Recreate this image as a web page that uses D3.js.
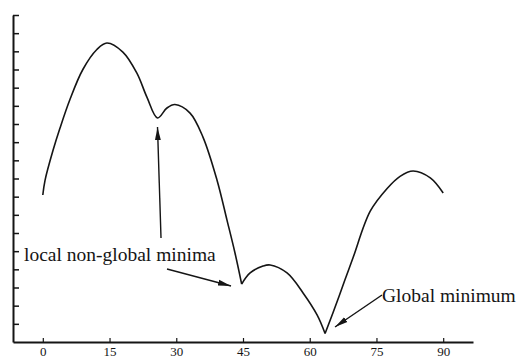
<!DOCTYPE html>
<html>
<head>
<meta charset="utf-8">
<script src="https://cdn.jsdelivr.net/npm/d3@7"></script>
<style>
  html, body { margin: 0; padding: 0; background: #fff; }
  svg { display: block; }
  text { font-family: "Liberation Serif", "Times New Roman", serif; fill: #151515; }
</style>
</head>
<body>
<svg id="chart" width="520" height="358"></svg>
<script>
// curve samples (x in degrees, y in arbitrary units)
const curveX = [0, 0.5, 2.3, 3.83, 6.1, 9.0, 12.15, 14.4, 18.0, 21.15, 23.4, 25.8, 27.9, 29.7, 33.1, 36.0, 39.15, 41.4, 43.2, 44.7,
  46.6, 49.5, 51.1, 54.9, 58.5, 61.65, 63.45, 65.25, 67.9, 69.75, 73.6, 77.4, 80.3, 83.25, 87.1, 90];
const curveY = [8.09, 8.9, 10.55, 11.75, 13.35, 15.0, 16.1, 16.46, 15.96, 14.80, 13.48, 12.33, 12.88, 13.07, 12.60, 11.28, 8.92, 6.71, 4.90, 3.19,
  3.80, 4.18, 4.24, 3.80, 2.70, 1.49, 0.47, 1.62, 3.41, 4.65, 7.2, 8.45, 9.12, 9.41, 9.03, 8.20];
// sharp minima where the curve has a corner
const cuspX = [44.7, 63.45];

const xTicks = [0, 15, 30, 45, 60, 75, 90];
const yTicks = d3.range(1, 19);

const labelLocal = 'local non-global minima';
const labelGlobal = 'Global minimum';

const svg = d3.select('#chart');

const xScale = d3.scaleLinear().domain([-6.7, 96.7]).range([13, 473]);
const yScale = d3.scaleLinear().domain([0, 18]).range([342, 15]);

// arrowhead
svg.append('defs').append('marker')
  .attr('id', 'head')
  .attr('markerUnits', 'userSpaceOnUse')
  .attr('markerWidth', 14)
  .attr('markerHeight', 8)
  .attr('refX', 13)
  .attr('refY', 3.5)
  .attr('orient', 'auto')
  .append('path')
  .attr('d', 'M0,0.6 L13,3.5 L0,6.4 Z')
  .attr('fill', '#151515');

// x axis, ticks pointing up, labels below
const xAxis = svg.append('g')
  .attr('transform', `translate(0,${yScale(0)})`)
  .call(d3.axisBottom(xScale)
    .tickValues(xTicks)
    .tickSizeInner(-4)
    .tickSizeOuter(0)
    .tickPadding(5)
    .tickFormat(d3.format('d')));

xAxis.select('.domain').attr('stroke', '#151515').attr('stroke-width', 2);
xAxis.selectAll('.tick line').attr('stroke', '#151515').attr('stroke-width', 1.2);
xAxis.selectAll('.tick text')
  .style('font-family', '"Liberation Serif", serif')
  .style('font-size', '13px')
  .attr('fill', '#151515');

// y axis, unlabelled ticks pointing right
const yAxis = svg.append('g')
  .attr('transform', `translate(${xScale.range()[0]},0)`)
  .call(d3.axisRight(yScale)
    .tickValues(yTicks)
    .tickSizeInner(6)
    .tickSizeOuter(0)
    .tickFormat(''));

yAxis.select('.domain').attr('stroke', '#151515').attr('stroke-width', 2);
yAxis.selectAll('.tick line').attr('stroke', '#151515').attr('stroke-width', 1.5);

// split the samples into arches at the sharp minima
const points = curveX.map((x, i) => ({ x, y: curveY[i] }));
const arches = [];
let current = [];
points.forEach(p => {
  current.push(p);
  if (cuspX.includes(p.x)) {
    arches.push(current);
    current = [p];
  }
});
arches.push(current);

const line = d3.line()
  .x(d => xScale(d.x))
  .y(d => yScale(d.y))
  .curve(d3.curveCatmullRom.alpha(0.5));

svg.selectAll('path.arch')
  .data(arches)
  .enter()
  .append('path')
  .attr('class', 'arch')
  .attr('d', line)
  .attr('fill', 'none')
  .attr('stroke', '#151515')
  .attr('stroke-width', 1.6)
  .attr('stroke-linejoin', 'round');

// annotations
const arrows = [
  { x1: 161, y1: 238, x2: 157.5, y2: 127 },
  { x1: 167, y1: 269, x2: 231, y2: 286 },
  { x1: 382, y1: 295, x2: 335, y2: 327 }
];

svg.selectAll('line.arrow')
  .data(arrows)
  .enter()
  .append('line')
  .attr('class', 'arrow')
  .attr('x1', d => d.x1)
  .attr('y1', d => d.y1)
  .attr('x2', d => d.x2)
  .attr('y2', d => d.y2)
  .attr('stroke', '#151515')
  .attr('stroke-width', 1.4)
  .attr('marker-end', 'url(#head)');

svg.append('text')
  .attr('x', 24)
  .attr('y', 261)
  .style('font-size', '19.5px')
  .text(labelLocal);

svg.append('text')
  .attr('x', 382)
  .attr('y', 302)
  .style('font-size', '19.5px')
  .text(labelGlobal);
</script>
</body>
</html>
